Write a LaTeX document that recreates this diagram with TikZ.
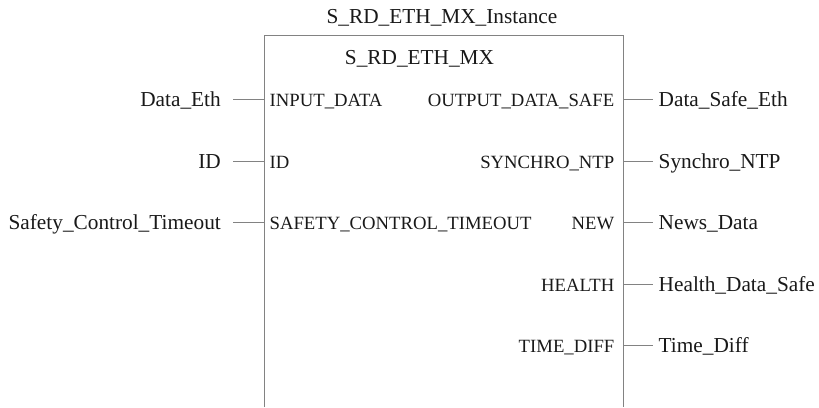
\documentclass[tikz,border=0pt]{standalone}
\usepackage{fontspec}
\setmainfont{Liberation Serif}
\definecolor{wiregray}{RGB}{130,130,130}
\definecolor{txt}{RGB}{25,25,25}
\begin{document}
\begin{tikzpicture}[x=1pt,y=-1pt,
  wire/.style={draw=wiregray, line width=0.9pt},
  outer/.style={inner sep=0pt, text=txt, font=\fontsize{21.3}{25}\selectfont},
  portl/.style={inner sep=0pt, text=txt, font=\fontsize{18.7}{22}\selectfont, anchor=base west},
  portr/.style={inner sep=0pt, text=txt, font=\fontsize{18.7}{22}\selectfont, anchor=base east},
  extl/.style={outer, anchor=base east},
  extr/.style={outer, anchor=base west}]
\useasboundingbox (0,0) rectangle (819,407);
% block outline (open at bottom)
\coordinate (bl) at (264,407);
\coordinate (tl) at (264,35.5);
\coordinate (tr) at (623,35.5);
\coordinate (br) at (623,407);
\draw[wire] (bl) -- (tl) -- (tr) -- (br);
\node[outer, anchor=base] (inst) at (442,23) {S\_RD\_ETH\_MX\_Instance};
\node[outer, anchor=base] (type) at (419.5,64) {S\_RD\_ETH\_MX};
% inputs
\foreach \y/\ext/\port/\n in {99.5/Data\_Eth/INPUT\_DATA/a, 161/ID/ID/b, 222.5/Safety\_Control\_Timeout/SAFETY\_CONTROL\_TIMEOUT/c}{
  \node[extl] (e\n) at (221,\y+7) {\ext};
  \node[portl] (p\n) at (269.5,\y+7) {\port};
  \coordinate (s\n) at (233,\y);
  \coordinate (t\n) at (264,\y);
  \draw[wire] (s\n) -- (t\n);
}
% outputs
\foreach \y/\port/\ext/\n in {99.5/OUTPUT\_DATA\_SAFE/Data\_Safe\_Eth/d, 161/SYNCHRO\_NTP/Synchro\_NTP/e, 222.5/NEW/News\_Data/f, 284/HEALTH/Health\_Data\_Safe/g, 345.5/TIME\_DIFF/Time\_Diff/h}{
  \node[portr] (p\n) at (614.5,\y+7) {\port};
  \node[extr] (e\n) at (658.5,\y+7) {\ext};
  \coordinate (s\n) at (623,\y);
  \coordinate (t\n) at (652.5,\y);
  \draw[wire] (s\n) -- (t\n);
}
\end{tikzpicture}
\end{document}
